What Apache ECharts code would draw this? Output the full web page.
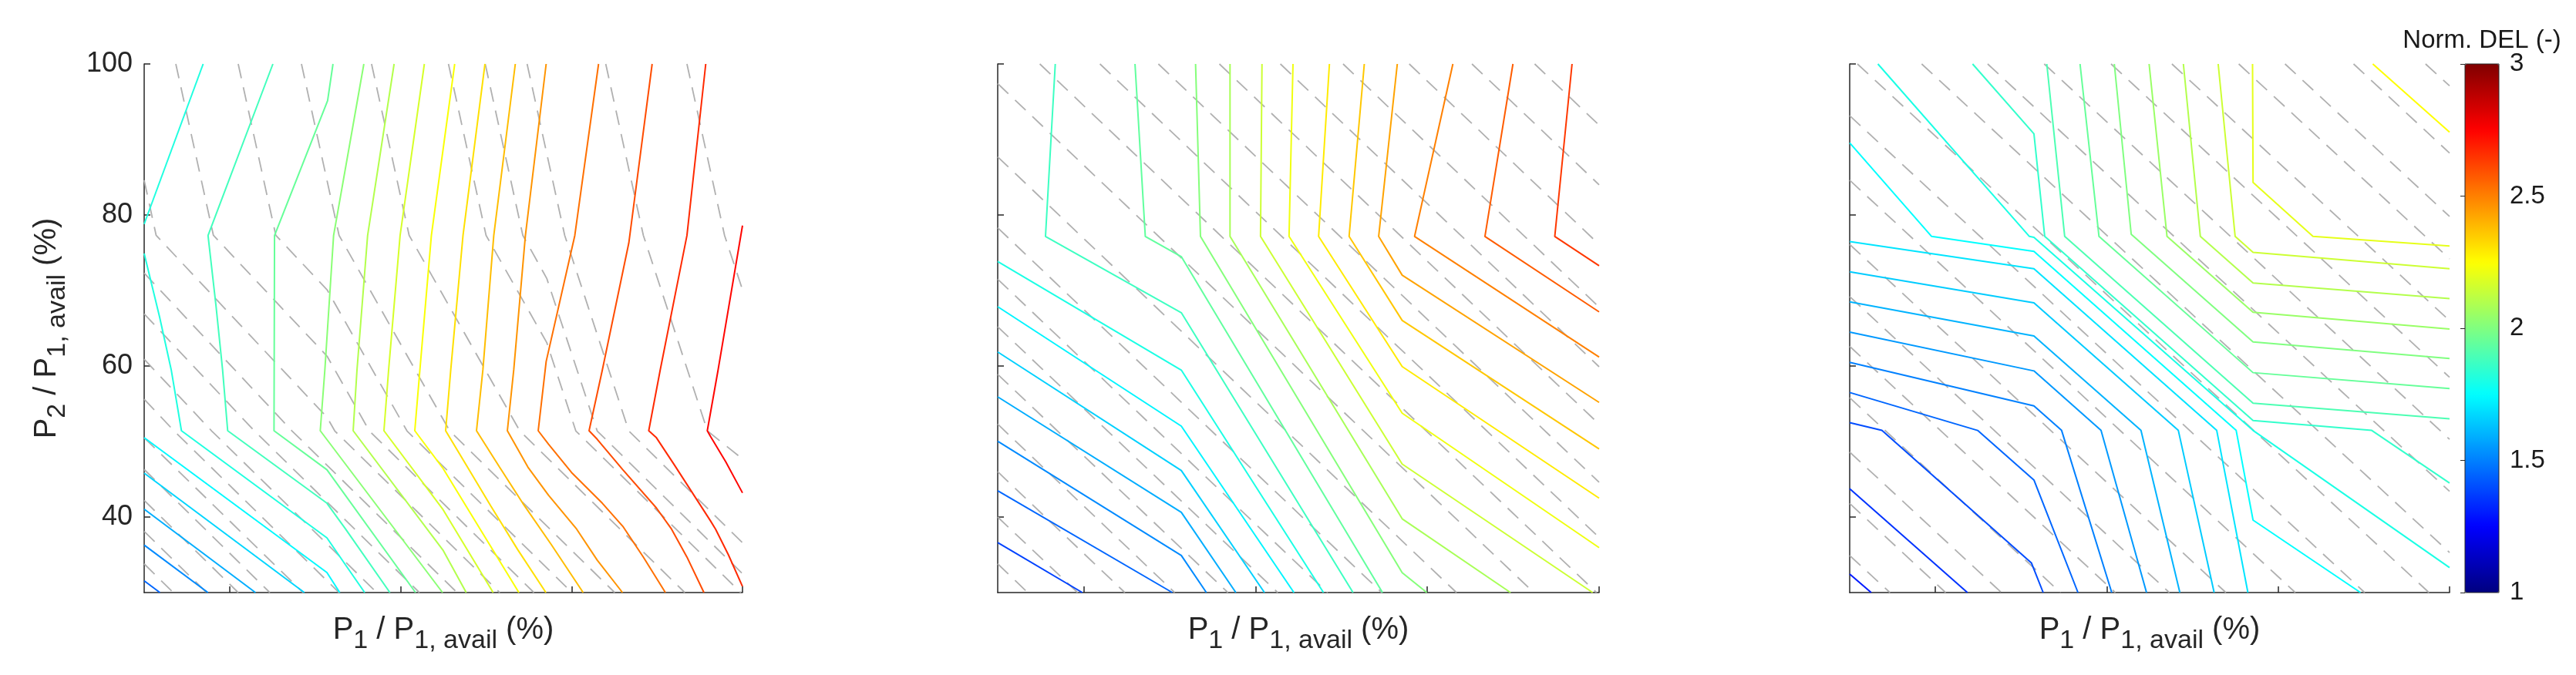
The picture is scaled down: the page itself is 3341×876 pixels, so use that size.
<!DOCTYPE html>
<html>
<head>
<meta charset="utf-8">
<script src="https://cdn.jsdelivr.net/npm/echarts@6/dist/echarts.min.js"></script>
<style>
  html, body { margin: 0; padding: 0; background: #fff; }
  #chart { width: 3341px; height: 876px; }
</style>
</head>
<body>
<div id="chart"></div>
<script>
// axes: both P1/P1,avail and P2/P1,avail in %
const AXIS_MIN = 30
const AXIS_MAX = 100
const AXIS_TICKS = [40, 60, 80, 100]
const CBAR_MIN = 1
const CBAR_MAX = 3
const CBAR_TICKS = [1, 1.5, 2, 2.5, 3]

// panel 1: contour levels (Norm. DEL) and their polylines [P1, P2]
const p1Levels = [1.45, 1.52, 1.59, 1.67, 1.74, 1.81, 1.81, 1.88, 1.95, 2.02, 2.10, 2.17, 2.24, 2.31, 2.38, 2.46, 2.53, 2.60, 2.67, 2.74]
const p1Lines = [
    [[30, 31.56], [31.84, 30]],
    [[30, 36.29], [37.46, 30]],
    [[30, 41.05], [43.02, 30]],
    [[30, 45.81], [48.74, 30]],
    [[30, 50.51], [51.38, 32.65], [52.88, 30]],
    [[36.9, 100], [30, 78.8]],
    [[30, 74.9], [31.8, 66.5], [33.16, 59.52], [34.36, 51.43], [51.38, 37.24], [53.55, 33.67], [55.8, 30]],
    [[45.06, 100], [37.47, 77.28], [38.4, 68], [39.17, 59.52], [39.77, 51.43], [51.38, 41.83], [53.55, 38.43], [58.75, 30]],
    [[52.09, 100], [51.46, 95.15], [45.25, 77.28], [45.19, 51.43], [51.38, 46.26], [61.75, 30]],
    [[55.7, 100], [52.16, 77.28], [51.14, 59.52], [50.6, 51.43], [64.91, 30]],
    [[59.24, 100], [56.14, 77.28], [54.9, 59.52], [54.45, 51.43], [65.0, 35.54], [67.68, 30]],
    [[62.78, 100], [59.94, 77.28], [58.6, 59.52], [58.05, 51.43], [64.97, 40.98], [70.83, 30]],
    [[66.33, 100], [63.6, 77.28], [62.26, 59.52], [61.66, 51.43], [64.97, 46.43], [73.84, 30]],
    [[69.87, 100], [67.3, 77.28], [65.87, 59.52], [65.27, 51.43], [67.83, 46.6], [70.53, 41.5], [73.69, 35.7], [77.0, 30]],
    [[73.42, 100], [70.9, 77.28], [69.63, 59.52], [68.88, 51.43], [71.58, 46.6], [74.29, 41.83], [77.6, 36.4], [81.36, 30]],
    [[77.03, 100], [74.6, 77.28], [73.24, 59.52], [72.49, 51.43], [74.9, 46.6], [77.3, 42.9], [80.6, 38.4], [83.0, 34.3], [85.96, 30]],
    [[83.16, 100], [80.38, 77.28], [77.03, 60.6], [76.1, 51.43], [77.3, 49.66], [80.0, 45.9], [83.6, 41.83], [86.0, 38.77], [88.4, 34.7], [90.98, 30]],
    [[89.43, 100], [86.7, 76.3], [83.61, 59.52], [82.05, 51.43], [83.0, 50.3], [86.0, 46.26], [89.93, 41.2], [91.7, 38.4], [93.5, 34.7], [95.49, 30]],
    [[95.7, 100], [93.5, 77.28], [90.38, 59.52], [89.03, 51.43], [89.93, 50.5], [92.03, 46.9], [96.25, 39.5], [96.85, 38.4], [98.35, 35.0], [100, 30.8]],
    [[100, 78.6], [97.15, 59.52], [95.88, 51.43], [96.25, 50.7], [98.05, 47.3], [100, 43.2]]
]
const p1Dashed = [
    [[33.7, 100], [38.1, 77.3], [51.4, 61.3], [56.35, 51.4], [75.6, 30]],
    [[41.0, 100], [45.4, 77.3], [51.4, 70.1], [60.75, 51.4], [80.05, 30]],
    [[48.4, 100], [52.8, 77.3], [65.75, 51.4], [85.05, 30]],
    [[56.6, 100], [61.0, 77.3], [73.95, 51.4], [93.25, 30]],
    [[65.6, 100], [70.0, 77.3], [77.1, 63.1], [80.5, 51.4], [99.8, 30]],
    [[69.9, 100], [74.3, 77.3], [77.1, 71.6], [83.0, 51.4], [100, 32.5]],
    [[74.8, 100], [79.2, 77.3], [86.7, 51.4], [100, 36.6]],
    [[84.0, 100], [88.4, 77.3], [95.9, 51.4], [100, 47.7]],
    [[93.5, 100], [97.9, 77.3], [100, 70.1]],
    [[30, 84.6], [31.4, 77.3], [51.4, 53.2], [52.3, 51.4], [71.6, 30]],
    [[30, 72.3], [47.3, 51.4], [66.6, 30]],
    [[30, 66.9], [42.9, 51.4], [62.2, 30]],
    [[30, 60.9], [37.9, 51.4], [57.2, 30]],
    [[30, 55.6], [33.5, 51.4], [52.8, 30]],
    [[30, 50.5], [48.6, 30]],
    [[30, 46.3], [44.7, 30]],
    [[30, 42.2], [41.0, 30]],
    [[30, 38.1], [37.3, 30]],
    [[30, 33.8], [33.4, 30]]
]

// panel 2
const p2Levels = [1.38, 1.45, 1.52, 1.59, 1.66, 1.73, 1.80, 1.87, 1.94, 2.01, 2.08, 2.15, 2.22, 2.29, 2.36, 2.43, 2.50, 2.57, 2.64]
const p2Lines = [
    [[30, 36.62], [39.85, 30]],
    [[30, 43.48], [50.33, 30]],
    [[30, 50.04], [51.37, 34.91], [54.29, 30]],
    [[30, 55.92], [51.37, 40.62], [57.72, 30]],
    [[30, 61.86], [51.37, 46.16], [61.05, 30]],
    [[30, 67.86], [51.37, 52.04], [64.48, 30]],
    [[30, 73.85], [51.37, 59.46], [67.92, 30]],
    [[36.7, 100], [35.56, 77.16], [51.37, 67.06], [71.36, 30]],
    [[45.98, 100], [47.18, 77.16], [51.37, 74.48], [74.79, 30]],
    [[53.03, 100], [53.6, 77.16], [77.08, 32.63], [79.95, 30]],
    [[57.04, 100], [57.04, 77.16], [77.08, 39.76], [89.69, 30]],
    [[60.76, 100], [60.59, 77.16], [77.08, 47.02], [99.25, 30]],
    [[64.37, 100], [63.91, 77.16], [77.08, 53.75], [100, 35.94]],
    [[68.61, 100], [67.35, 77.16], [77.08, 59.92], [100, 42.5]],
    [[72.67, 100], [70.9, 77.16], [77.08, 66.03], [100, 49.01]],
    [[76.51, 100], [74.34, 77.16], [77.08, 72.03], [100, 55.18]],
    [[82.98, 100], [78.52, 77.16], [100, 61.18]],
    [[89.97, 100], [86.71, 77.16], [100, 67.17]],
    [[96.85, 100], [94.84, 77.16], [100, 73.28]]
]
const p2Dashed = [
    [[30, 97.4], [92.4, 30]], [[30, 87.7], [83.4, 30]], [[30, 78.3], [74.7, 30]],
    [[30, 71.5], [68.4, 30]], [[30, 65.2], [62.6, 30]], [[30, 58.9], [56.8, 30]],
    [[30, 52.3], [50.6, 30]], [[30, 46.0], [44.8, 30]], [[30, 40.0], [39.3, 30]],
    [[30, 33.8], [33.5, 30]], [[34.9, 100], [99.7, 30]], [[41.9, 100], [100, 37.3]],
    [[48.7, 100], [100, 44.6]], [[55.8, 100], [100, 52.3]], [[62.9, 100], [100, 59.9]],
    [[70.2, 100], [100, 67.8]], [[77.9, 100], [100, 76.1]], [[85.2, 100], [100, 84.0]],
    [[92.5, 100], [100, 91.9]]
]

// panel 3
const p3Levels = [1.30, 1.35, 1.40, 1.45, 1.50, 1.55, 1.60, 1.65, 1.70, 1.75, 1.80, 1.85, 1.90, 1.95, 2.00, 2.05, 2.10, 2.15, 2.20, 2.25]
const p3Lines = [
    [[30, 32.46], [32.51, 30]],
    [[30, 43.76], [43.74, 30]],
    [[30, 52.5], [33.76, 51.47], [51.2, 33.94], [52.58, 30]],
    [[30, 56.49], [44.93, 51.47], [51.5, 44.9], [56.64, 30]],
    [[30, 60.49], [51.5, 54.72], [54.73, 51.47], [60.58, 30]],
    [[30, 64.49], [51.5, 59.35], [59.33, 51.47], [64.64, 30]],
    [[30, 68.49], [51.5, 63.97], [63.99, 51.47], [68.53, 30]],
    [[30, 72.48], [51.5, 68.37], [68.35, 51.47], [72.53, 30]],
    [[30, 76.48], [51.5, 72.88], [72.83, 51.47], [76.47, 30]],
    [[30, 89.56], [39.56, 77.16], [51.5, 75.17], [75.1, 51.47], [77.07, 39.59], [89.61, 30]],
    [[33.29, 100], [50.97, 77.16], [51.5, 77.05], [77.07, 51.47], [100, 33.31]],
    [[44.34, 100], [51.5, 90.75], [52.76, 77.16], [77.07, 52.78], [90.92, 51.47], [100, 44.5]],
    [[53.0, 100], [55.09, 77.16], [77.07, 55.07], [100, 53.01]],
    [[56.88, 100], [59.09, 77.16], [77.07, 59.12], [100, 57.01]],
    [[60.88, 100], [62.85, 77.45], [77.07, 63.18], [100, 61.0]],
    [[64.94, 100], [67.03, 77.16], [77.07, 67.12], [100, 64.89]],
    [[68.94, 100], [70.92, 77.16], [77.07, 71.0], [100, 68.94]],
    [[73.0, 100], [74.98, 77.16], [77.07, 75.05], [100, 72.88]],
    [[77.01, 100], [77.07, 84.3], [84.06, 77.16], [100, 75.9]],
    [[91.04, 100], [100, 90.98]]
]
const p3Dashed = [
    [[30, 93.15], [90.1, 30]], [[30, 84.6], [82.0, 30]], [[30, 76.1], [73.9, 30]],
    [[30, 69.2], [67.3, 30]], [[30, 62.6], [61.0, 30]], [[30, 55.8], [54.6, 30]],
    [[30, 48.6], [47.7, 30]], [[30, 41.8], [41.2, 30]], [[30, 34.9], [34.7, 30]],
    [[30.9, 100], [97.6, 30]], [[38.4, 100], [100, 35.3]], [[46.1, 100], [100, 43.4]],
    [[52.7, 100], [100, 50.3]], [[60.5, 100], [100, 58.5]], [[67.6, 100], [100, 66.0]],
    [[75.4, 100], [100, 74.2]], [[80.8, 100], [100, 79.8]], [[88.8, 100], [100, 88.2]],
    [[97.2, 100], [100, 97.1]]
]

const FONT = 'Liberation Sans'
const INK = '#262626'
const JET_STOPS = ['#000080', '#0000ff', '#0080ff', '#00ffff', '#80ff80', '#ffff00', '#ff8000', '#ff0000', '#800000']

// MATLAB jet colour for a level
function jet(v) {
    const t = (v - CBAR_MIN) / (CBAR_MAX - CBAR_MIN)
    const c = (x) => Math.round(255 * Math.max(0, Math.min(1, 1.5 - Math.abs(4 * t - x))))
    return 'rgb(' + c(3) + ',' + c(2) + ',' + c(1) + ')'
}

const grids = [
    { left: 187, top: 83, width: 776, height: 686 },
    { left: 1294, top: 83, width: 780, height: 686 },
    { left: 2399, top: 83, width: 778, height: 686 }
]

// tex-like subscripts: smaller text pushed down by top padding
const titleRich = {
    m: { fontFamily: FONT, fontSize: 40, color: INK },
    s: { fontFamily: FONT, fontSize: 34, color: INK, padding: [28, 0, 0, 0] }
}
const xTitle = '{m|P}{s|1}{m| / P}{s|1, avail}{m| (%)}'
const yTitle = '{m|P}{s|2}{m| / P}{s|1, avail}{m| (%)}'

const xAxes = grids.map((g, i) => ({
    gridIndex: i,
    type: 'value',
    min: AXIS_MIN,
    max: AXIS_MAX,
    axisLine: { show: true, onZero: false, lineStyle: { color: INK, width: 1.5 } },
    axisTick: { show: true, inside: true, length: 8, customValues: AXIS_TICKS, lineStyle: { color: INK, width: 1.5 } },
    axisLabel: { show: false },
    splitLine: { show: false },
    name: xTitle,
    nameLocation: 'middle',
    nameGap: 18,
    nameTextStyle: { rich: titleRich }
}))
const yAxes = grids.map((g, i) => ({
    gridIndex: i,
    type: 'value',
    min: AXIS_MIN,
    max: AXIS_MAX,
    axisLine: { show: true, onZero: false, lineStyle: { color: INK, width: 1.5 } },
    axisTick: { show: true, inside: true, length: 8, customValues: AXIS_TICKS, lineStyle: { color: INK, width: 1.5 } },
    axisLabel: {
        show: i === 0, customValues: AXIS_TICKS, margin: 15,
        fontFamily: FONT, fontSize: 36, color: INK
    },
    splitLine: { show: false },
    name: i === 0 ? yTitle : '',
    nameLocation: 'middle',
    nameGap: 95,
    nameTextStyle: { rich: titleRich }
}))

// colour bar frame and its ticks
grids.push({
    left: 3197, top: 83, width: 44, height: 686,
    show: true, borderColor: INK, borderWidth: 1, backgroundColor: 'rgba(0,0,0,0)', z: 5
})
xAxes.push({
    gridIndex: 3, type: 'value', min: 0, max: 1, position: 'top',
    axisLine: { show: false }, axisTick: { show: false }, axisLabel: { show: false }, splitLine: { show: false },
    name: 'Norm. DEL (-)', nameLocation: 'middle', nameGap: 14,
    nameTextStyle: { fontFamily: FONT, fontSize: 33, color: '#1a1a1a' }
})
yAxes.push({
    gridIndex: 3, type: 'value', min: CBAR_MIN, max: CBAR_MAX, position: 'right', z: 6,
    axisLine: { show: false },
    axisTick: { show: true, inside: true, length: 6, customValues: CBAR_TICKS, lineStyle: { color: INK, width: 1 } },
    axisLabel: { customValues: CBAR_TICKS, margin: 14, fontFamily: FONT, fontSize: 33, color: '#1a1a1a' },
    splitLine: { show: false }
})

function contourSeries(panel, levels, lines) {
    return lines.map((pts, k) => ({
        type: 'line', xAxisIndex: panel, yAxisIndex: panel, data: pts,
        showSymbol: false, symbol: 'none', silent: true, z: 3,
        lineStyle: { color: jet(levels[k]), width: 2 }
    }))
}
function dashedSeries(panel, lines) {
    return lines.map((pts) => ({
        type: 'line', xAxisIndex: panel, yAxisIndex: panel, data: pts,
        showSymbol: false, symbol: 'none', silent: true, z: 2,
        lineStyle: { color: '#b0b0b0', width: 1.8, type: [19, 12] }
    }))
}

const series = [].concat(
    dashedSeries(0, p1Dashed), contourSeries(0, p1Levels, p1Lines),
    dashedSeries(1, p2Dashed), contourSeries(1, p2Levels, p2Lines),
    dashedSeries(2, p3Dashed), contourSeries(2, p3Levels, p3Lines)
)

const chart = echarts.init(document.getElementById('chart'))
chart.setOption({
    animation: false,
    backgroundColor: '#fff',
    grid: grids,
    xAxis: xAxes,
    yAxis: yAxes,
    visualMap: {
        type: 'continuous', seriesIndex: [], min: CBAR_MIN, max: CBAR_MAX,
        calculable: false, hoverLink: false, padding: 0,
        itemWidth: 44, itemHeight: 686, left: 3197, top: 83, z: 4,
        inRange: { color: JET_STOPS }
    },
    series: series
})
</script>
</body>
</html>
